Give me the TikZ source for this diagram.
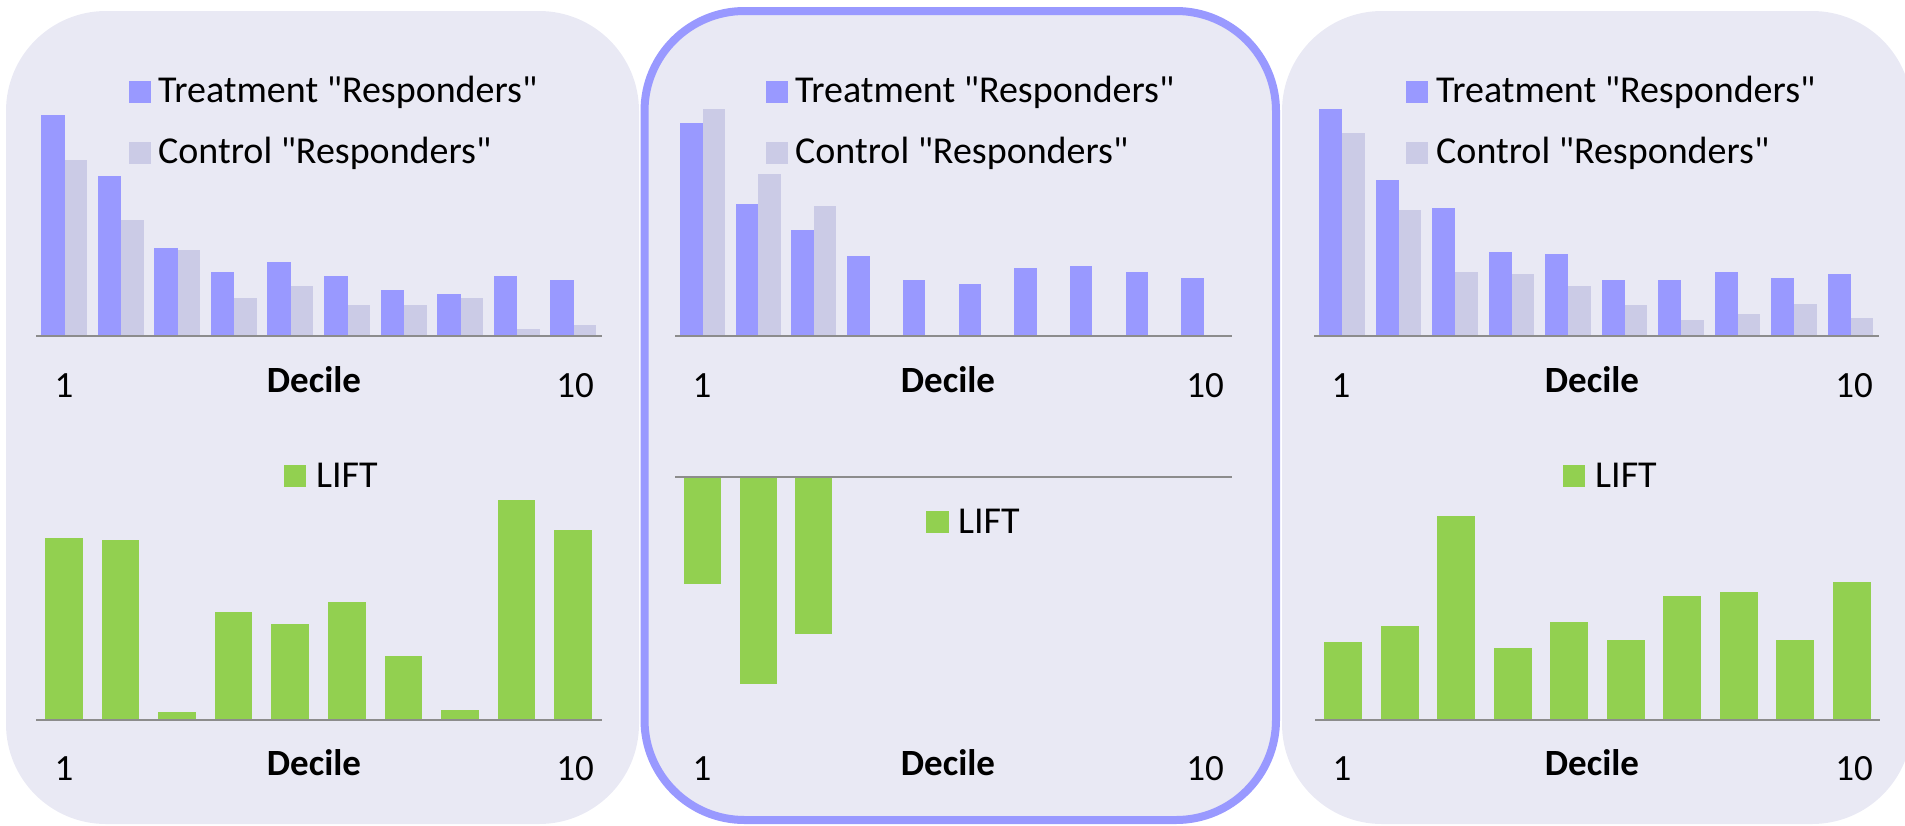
\documentclass[tikz,border=0pt]{standalone}
\usepackage{fontspec}
\setmainfont{Carlito}[Ligatures=TeXOff]
\definecolor{panelfill}{HTML}{E9E9F4}
\definecolor{treatblue}{HTML}{9999FF}
\definecolor{ctrlgrey}{HTML}{CBCBE6}
\definecolor{liftgreen}{HTML}{92D050}
\definecolor{axisgrey}{HTML}{8C8C8C}
\tikzset{
  panel/.style={fill=panelfill, rounded corners=100pt},
  midpanel/.style={fill=panelfill, draw=treatblue, line width=8pt, rounded corners=100pt},
  tbar/.style={fill=treatblue},
  cbar/.style={fill=ctrlgrey},
  lbar/.style={fill=liftgreen},
  axisline/.style={draw=axisgrey, line width=2.5pt},
  txt/.style={inner sep=0pt, font=\fontsize{37}{44}\selectfont},
  legtext/.style={inner sep=0pt, anchor=base west, font=\fontsize{38}{44}\selectfont},
  ticklbl/.style={txt, anchor=base},
  axtitle/.style={txt, anchor=base, font=\fontsize{37}{44}\selectfont\bfseries},
}
\begin{document}
\begin{tikzpicture}[x=1pt, y=-1pt]
\useasboundingbox (0,0) rectangle (1905,825);
\clip (0,0) rectangle (1905,825);

% ---------- panels ----------
\fill[panel] (6,11) rectangle (639,824);
\fill[panel] (1282,11) rectangle (1912,824);
\draw[midpanel] (644.5,11) rectangle (1276,820);

% ---------- left panel: responders ----------
\foreach \t/\c [count=\i] in {115/160,176/220,248/250,272/298,262/286,276/305,290/305,294/298,276/329,280/325}{
  \fill[tbar] ({36+56.6*(\i-1)+5},\t) rectangle ({36+56.6*(\i-1)+28.5},336);
  \fill[cbar] ({36+56.6*(\i-1)+28.5},\c) rectangle ({36+56.6*(\i-1)+51},336);
}
\draw[axisline] (36,336) -- (602,336);
\fill[tbar] (129,81) rectangle (151,103);
\node[legtext] (l-treat) at (158,102) {Treatment "Responders"};
\fill[cbar] (129,142) rectangle (151,164);
\node[legtext] (l-ctrl) at (158,163.5) {Control "Responders"};
\node[ticklbl] (l-t1) at (64,397) {1};
\node[axtitle] (l-tdec) at (314,392) {Decile};
\node[ticklbl] (l-t10) at (575,397) {10};

% ---------- left panel: lift ----------
\foreach \h [count=\i] in {538,540,712,612,624,602,656,710,500,530}{
  \fill[lbar] ({36+56.6*(\i-1)+9},\h) rectangle ({36+56.6*(\i-1)+46.5},720);
}
\draw[axisline] (36,720) -- (602,720);
\fill[lbar] (284,465) rectangle (306,487);
\node[legtext] (l-lift) at (316,487) {LIFT};
\node[ticklbl] (l-b1) at (64,780) {1};
\node[axtitle] (l-bdec) at (314,775) {Decile};
\node[ticklbl] (l-b10) at (575,780) {10};

% ---------- middle panel: responders ----------
\foreach \t [count=\i] in {123,204,230,256,280,284,268,266,272,278}{
  \fill[tbar] ({675+55.7*(\i-1)+5},\t) rectangle ({675+55.7*(\i-1)+27.5},336);
}
\foreach \c [count=\i] in {109,174,206}{
  \fill[cbar] ({675+55.7*(\i-1)+27.5},\c) rectangle ({675+55.7*(\i-1)+50},336);
}
\draw[axisline] (675,336) -- (1232,336);
\fill[tbar] (766,81) rectangle (788,103);
\node[legtext] (m-treat) at (795,102) {Treatment "Responders"};
\fill[cbar] (766,142) rectangle (788,164);
\node[legtext] (m-ctrl) at (795,163.5) {Control "Responders"};
\node[ticklbl] (m-t1) at (702,397) {1};
\node[axtitle] (m-tdec) at (948,392) {Decile};
\node[ticklbl] (m-t10) at (1205,397) {10};

% ---------- middle panel: lift (negative) ----------
\foreach \h [count=\i] in {584,684,634}{
  \fill[lbar] ({675+55.7*(\i-1)+9},477) rectangle ({675+55.7*(\i-1)+46},\h);
}
\draw[axisline] (675,477) -- (1232,477);
\fill[lbar] (926,511) rectangle (949,533);
\node[legtext] (m-lift) at (958,533) {LIFT};
\node[ticklbl] (m-b1) at (702,780) {1};
\node[axtitle] (m-bdec) at (948,775) {Decile};
\node[ticklbl] (m-b10) at (1205,780) {10};

% ---------- right panel: responders ----------
\foreach \t/\c [count=\i] in {109/133,180/210,208/272,252/274,254/286,280/305,280/320,272/314,278/304,274/318}{
  \fill[tbar] ({1314+56.5*(\i-1)+5},\t) rectangle ({1314+56.5*(\i-1)+28},336);
  \fill[cbar] ({1314+56.5*(\i-1)+28},\c) rectangle ({1314+56.5*(\i-1)+50.5},336);
}
\draw[axisline] (1314,336) -- (1879,336);
\fill[tbar] (1406,81) rectangle (1428,103);
\node[legtext] (r-treat) at (1436,102) {Treatment "Responders"};
\fill[cbar] (1406,142) rectangle (1428,164);
\node[legtext] (r-ctrl) at (1436,163.5) {Control "Responders"};
\node[ticklbl] (r-t1) at (1341,397) {1};
\node[axtitle] (r-tdec) at (1592,392) {Decile};
\node[ticklbl] (r-t10) at (1854,397) {10};

% ---------- right panel: lift ----------
\foreach \h [count=\i] in {642,626,516,648,622,640,596,592,640,582}{
  \fill[lbar] ({1315+56.5*(\i-1)+9},\h) rectangle ({1315+56.5*(\i-1)+47},720);
}
\draw[axisline] (1315,720) -- (1880,720);
\fill[lbar] (1563,465) rectangle (1585,487);
\node[legtext] (r-lift) at (1595,487) {LIFT};
\node[ticklbl] (r-b1) at (1342,780) {1};
\node[axtitle] (r-bdec) at (1592,775) {Decile};
\node[ticklbl] (r-b10) at (1854,780) {10};
\end{tikzpicture}
\end{document}
